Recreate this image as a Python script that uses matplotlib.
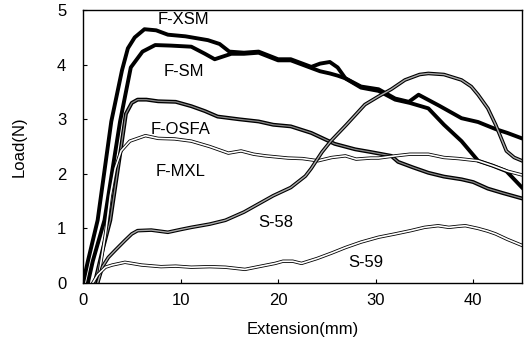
import matplotlib
matplotlib.use("Agg")
import matplotlib.pyplot as plt

plt.rcParams['font.family'] = ['Liberation Sans', 'DejaVu Sans']

# extension (mm) / load (N)
fxsm_x = [0, 0.5, 1.5, 2.9, 4.0, 4.6, 5.3, 6.3, 7.5, 8.7, 10.5, 12.8, 14.0, 15.0, 16.5, 18, 20, 21.3,
          23.4, 24.3, 25.3, 26.1, 26.9, 28.5, 30.3, 32, 33.4, 34.4, 36.5, 38.8, 40.5, 42.3, 43.5, 45]
fxsm_y = [0, 0.4, 1.15, 2.96, 3.9, 4.3, 4.5, 4.65, 4.63, 4.55, 4.52, 4.45, 4.38, 4.24, 4.22, 4.24, 4.1, 4.1,
          3.96, 4.02, 4.05, 3.95, 3.75, 3.6, 3.55, 3.38, 3.32, 3.45, 3.25, 3.02, 2.95, 2.82, 2.75, 2.65]

fsm_x = [0.5, 1.0, 2.2, 3.8, 4.9, 6.1, 7.4, 9, 11.1, 12.5, 13.5, 15.2, 16.5, 18, 20, 21.3, 23.4, 24.3,
         25.3, 26.1, 26.9, 28.5, 30.3, 32, 33.5, 35.4, 37, 38.8, 40.5, 42, 43.4, 45]
fsm_y = [0, 0.4, 1.15, 2.96, 3.95, 4.24, 4.36, 4.35, 4.33, 4.2, 4.1, 4.2, 4.2, 4.22, 4.08, 4.08, 3.94, 3.88,
         3.84, 3.8, 3.75, 3.58, 3.52, 3.36, 3.3, 3.2, 2.9, 2.6, 2.24, 2.15, 2.05, 1.75]

fosfa_x = [1.2, 2.0, 2.8, 3.8, 4.4, 5.0, 5.6, 6.5, 7.7, 9.5, 11.1, 12.5, 13.8, 16, 18, 19.5, 21.3, 23.4,
           25.8, 27.9, 29.5, 31.6, 32.3, 33.8, 35.4, 37, 38.8, 40, 41.5, 43, 45]
fosfa_y = [0, 0.6, 1.15, 2.36, 3.1, 3.3, 3.36, 3.36, 3.33, 3.32, 3.24, 3.15, 3.05, 3.0, 2.96, 2.9, 2.87, 2.75,
           2.55, 2.45, 2.4, 2.33, 2.22, 2.12, 2.02, 1.95, 1.9, 1.85, 1.73, 1.65, 1.55]

fmxl_x = [1.5, 2.3, 2.8, 3.3, 3.9, 4.8, 6.4, 7.7, 9.4, 11.1, 13, 14.9, 16.2, 17.5, 18.7, 21, 22.5, 24.1, 25.5,
          26.9, 28, 29.5, 30.3, 32, 33.5, 35.4, 37, 38.5, 40.5, 42, 43.5, 45]
fmxl_y = [0, 0.9, 1.6, 2.1, 2.42, 2.6, 2.7, 2.65, 2.64, 2.6, 2.5, 2.38, 2.42, 2.36, 2.33, 2.29, 2.28, 2.24, 2.3,
          2.33, 2.27, 2.29, 2.29, 2.33, 2.36, 2.36, 2.3, 2.28, 2.24, 2.15, 2.05, 1.98]

s58_x = [1.5, 2.0, 2.6, 3.3, 4.3, 5.0, 5.6, 7, 8.7, 10, 11.1, 13, 14.6, 16.5, 18, 19.5, 21.3, 22.8, 23.4,
         24.5, 25.4, 27, 28.9, 30.3, 31.6, 33, 34.5, 35.4, 37, 38.8, 39.8, 40.5, 41.5, 42.3, 43.4, 44.2, 45]
s58_y = [0, 0.3, 0.47, 0.6, 0.78, 0.9, 0.96, 0.97, 0.93, 0.98, 1.02, 1.08, 1.15, 1.3, 1.45, 1.6, 1.75, 1.96, 2.1,
         2.4, 2.6, 2.9, 3.27, 3.42, 3.55, 3.72, 3.82, 3.84, 3.82, 3.72, 3.6, 3.45, 3.2, 2.9, 2.42, 2.3, 2.24]

s59_x = [1.0, 1.5, 2.3, 3, 4.3, 5, 6, 8, 9.5, 11.1, 13, 14.6, 16.6, 18, 19.7, 20.5, 21.5, 22.4, 24, 25.5,
         26.9, 28.5, 30.3, 32, 33.6, 35, 36.4, 37.5, 38.5, 39.2, 40.5, 41.5, 42.3, 43.5, 45]
s59_y = [0, 0.15, 0.29, 0.33, 0.38, 0.36, 0.33, 0.3, 0.31, 0.29, 0.3, 0.29, 0.25, 0.3, 0.36, 0.4, 0.4, 0.36,
         0.45, 0.55, 0.65, 0.75, 0.84, 0.9, 0.96, 1.02, 1.05, 1.02, 1.04, 1.05, 1.0, 0.95, 0.9, 0.8, 0.69]

fig = plt.figure(figsize=(5.27, 3.49), dpi=100, facecolor='w')
ax = fig.add_axes([0.1575, 0.189, 0.833, 0.782])


def hollow(x, y, outer, inner, inner_color):
    ax.plot(x, y, color='black', lw=outer, solid_joinstyle='round')
    ax.plot(x, y, color=inner_color, lw=inner, solid_joinstyle='round')


ax.plot(fxsm_x, fxsm_y, color='black', lw=2.8)
ax.plot(fsm_x, fsm_y, color='black', lw=2.8)
hollow(fosfa_x, fosfa_y, 2.8, 0.9, '#888888')
hollow(fmxl_x, fmxl_y, 2.4, 1.2, 'white')
hollow(s58_x, s58_y, 2.6, 1.0, '#aaaaaa')
hollow(s59_x, s59_y, 2.4, 1.2, 'white')

fs = 12
ax.text(10.3, 4.82, 'F-XSM', ha='center', va='center', fontsize=fs)
ax.text(10.3, 3.87, 'F-SM', ha='center', va='center', fontsize=fs)
ax.text(10.0, 2.82, 'F-OSFA', ha='center', va='center', fontsize=fs)
ax.text(10.0, 2.05, 'F-MXL', ha='center', va='center', fontsize=fs)
ax.text(19.8, 1.1, 'S-58', ha='center', va='center', fontsize=fs)
ax.text(29.0, 0.38, 'S-59', ha='center', va='center', fontsize=fs)

ax.set_xlim(0, 45)
ax.set_ylim(0, 5)
ax.set_xticks([0, 10, 20, 30, 40])
ax.set_yticks([0, 1, 2, 3, 4, 5])
ax.tick_params(direction='in', length=3, labelsize=12, width=0.8)
ax.tick_params(axis='y', pad=12)
ax.tick_params(axis='x', pad=7)
for s in ax.spines.values():
    s.set_linewidth(1.0)
ax.set_xlabel('Extension(mm)', fontsize=12, labelpad=10)
ax.set_ylabel('Load(N)', fontsize=12, labelpad=22)

fig.savefig('out.png', dpi=100)
